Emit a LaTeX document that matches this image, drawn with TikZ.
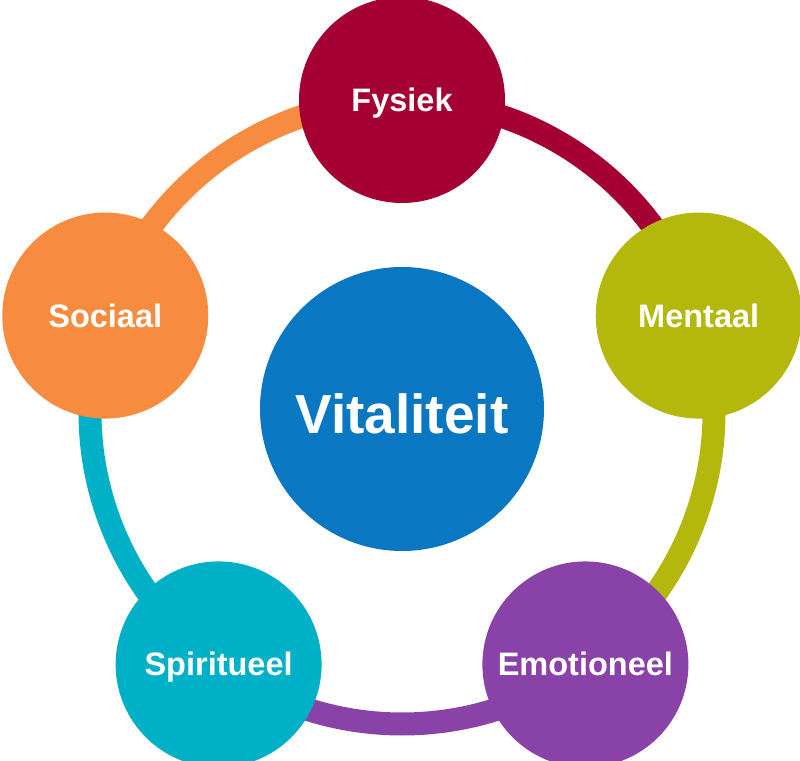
\documentclass[tikz,border=0pt]{standalone}
\usepackage{fontspec}
\setmainfont{Liberation Sans}
\usetikzlibrary{backgrounds}
\definecolor{fysiek}{HTML}{A50034}
\definecolor{mentaal}{HTML}{B4B80C}
\definecolor{emotie}{HTML}{8842A8}
\definecolor{spirit}{HTML}{00B0C7}
\definecolor{sociaal}{HTML}{F78B3F}
\definecolor{vitaal}{HTML}{0A77C2}
\tikzset{
  pillar/.style={circle,fill=#1,minimum size=206pt,inner sep=0pt,text=white,
    font=\bfseries\fontsize{32.5}{38}\selectfont,text height=23pt,text depth=0pt},
  hub/.style={circle,fill=vitaal,minimum size=284pt,inner sep=0pt,text=white,
    font=\bfseries\fontsize{55}{60}\selectfont,text height=49pt,text depth=0pt},
  band/.style={line width=23pt,draw=#1}
}

\begin{document}
\begin{tikzpicture}[x=1pt,y=1pt]
  \useasboundingbox (-402,-348) rectangle (398,412);
  \def\R{312}
  % the five pillars on the ring
  \foreach \ang/\nm/\lbl/\col in {
    90/fys/Fysiek/fysiek,
    18/men/Mentaal/mentaal,
    -54/emo/Emotioneel/emotie,
    -126/spi/Spiritueel/spirit,
    162/soc/Sociaal/sociaal}
  {
    \node[pillar=\col] (\nm) at (\ang:\R) {\lbl};
  }
  \node[hub] (vit) at (0,3) {Vitaliteit};
  % ring pieces, clockwise, in the colour of the pillar they leave
  \begin{scope}[on background layer]
    \foreach \nm/\ang/\nxt/\col in {
      fys/90/18/fysiek,
      men/18/-54/mentaal,
      emo/-54/-126/emotie,
      spi/-126/-198/spirit,
      soc/162/90/sociaal}
    {
      \draw[band=\col] (\nm.center) arc[start angle=\ang,end angle=\nxt,radius=\R];
    }
  \end{scope}
\end{tikzpicture}
\end{document}
